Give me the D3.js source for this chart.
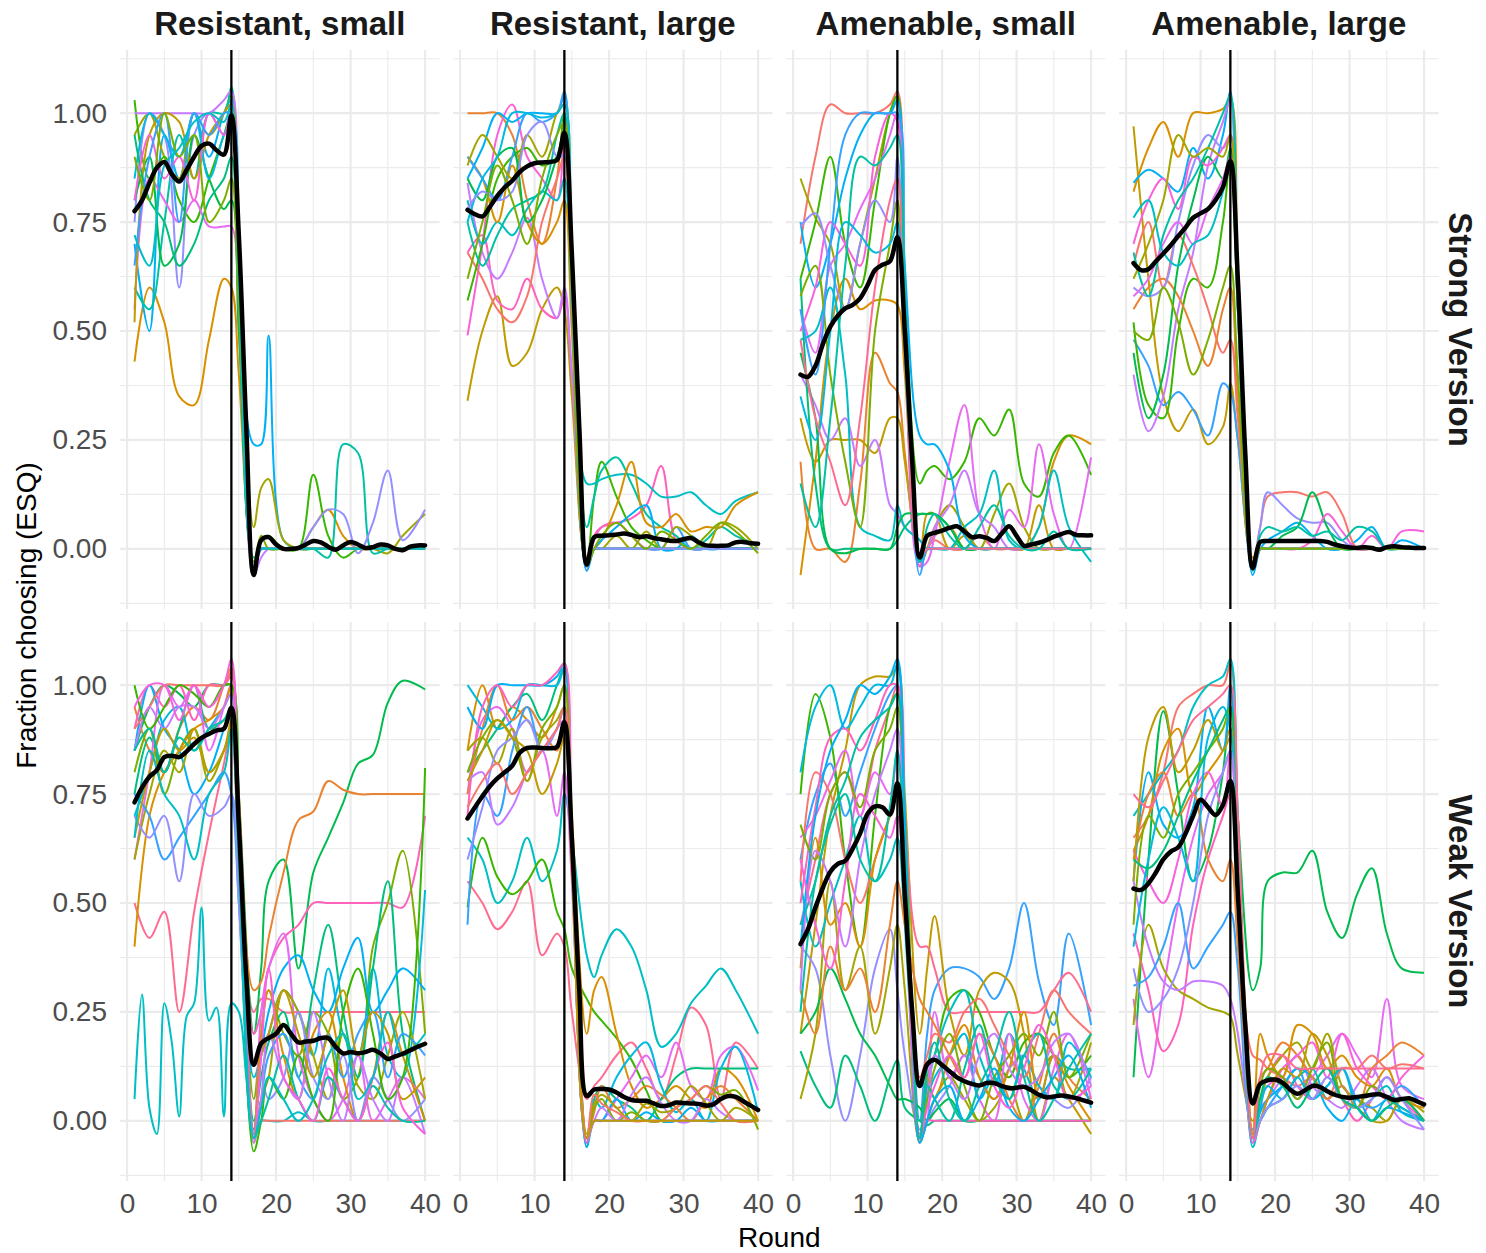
<!DOCTYPE html>
<html><head><meta charset="utf-8">
<script src="https://cdn.jsdelivr.net/npm/d3@7"></script>
<style>body{margin:0;background:#fff;} svg{display:block;font-family:"Liberation Sans",Arial,Helvetica,sans-serif;}</style>
</head><body><svg id="chart" width="1486" height="1253"></svg>
<script>
// ---------------- DATA ----------------
const colLabels = ["Resistant, small", "Resistant, large", "Amenable, small", "Amenable, large"];
const rowLabels = ["Strong Version", "Weak Version"];
const xTicks = [0, 10, 20, 30, 40];
const yTicks = [0, 0.25, 0.5, 0.75, 1];
const treatmentRound = 14;
const rounds = d3.range(1, 41);
// rounds at which individual group trajectories were read (values in percent)
const knotRounds = [1,3,5,7,9,11,13,14,15,17,18,19,21,23,25,27,29,31,33,35,37,40];

// mean (black) lines, rounds 1..40
const meanStrongResSmall = [0.775,0.80,0.84,0.875,0.888,0.86,0.843,0.87,0.90,0.925,0.93,0.915,0.905,0.995,0.72,0.28,-0.06,0.02,0.027,0.01,0.0,0.0,0.002,0.01,0.018,0.015,0.005,-0.002,0.008,0.016,0.01,0.002,0.004,0.01,0.008,0.0,-0.003,0.005,0.008,0.008];
const meanStrongResLarge = [0.778,0.768,0.763,0.785,0.81,0.83,0.845,0.865,0.878,0.885,0.887,0.888,0.892,0.955,0.68,0.28,-0.036,0.027,0.03,0.031,0.033,0.035,0.032,0.027,0.029,0.025,0.022,0.019,0.018,0.022,0.025,0.015,0.008,0.007,0.007,0.008,0.015,0.016,0.013,0.012];
const meanStrongAmeSmall = [0.40,0.395,0.42,0.47,0.51,0.535,0.552,0.56,0.575,0.605,0.64,0.652,0.66,0.715,0.50,0.20,-0.02,0.03,0.037,0.042,0.048,0.052,0.04,0.027,0.029,0.025,0.018,0.035,0.052,0.03,0.007,0.01,0.014,0.02,0.028,0.034,0.039,0.032,0.031,0.031];
const meanStrongAmeLarge = [0.656,0.64,0.642,0.66,0.678,0.697,0.718,0.738,0.76,0.77,0.78,0.80,0.83,0.89,0.62,0.22,-0.044,0.016,0.018,0.018,0.018,0.018,0.018,0.018,0.018,0.018,0.016,0.01,0.006,0.003,0.002,0.004,0.002,-0.002,0.004,0.006,0.004,0.003,0.002,0.002];
const meanWeakResSmall = [0.731,0.765,0.79,0.805,0.835,0.838,0.835,0.848,0.865,0.879,0.888,0.896,0.90,0.948,0.68,0.33,0.129,0.178,0.19,0.20,0.22,0.20,0.18,0.182,0.184,0.19,0.19,0.17,0.155,0.158,0.155,0.158,0.163,0.155,0.142,0.148,0.154,0.162,0.17,0.177];
const meanWeakResLarge = [0.694,0.72,0.745,0.768,0.786,0.80,0.815,0.845,0.856,0.857,0.856,0.855,0.858,0.915,0.65,0.30,0.057,0.072,0.073,0.072,0.065,0.055,0.048,0.046,0.046,0.04,0.034,0.036,0.042,0.041,0.04,0.039,0.035,0.038,0.05,0.057,0.055,0.045,0.035,0.025];
const meanWeakAmeSmall = [0.406,0.44,0.49,0.535,0.572,0.59,0.597,0.625,0.66,0.705,0.722,0.72,0.703,0.775,0.52,0.25,0.08,0.13,0.14,0.128,0.114,0.10,0.091,0.085,0.081,0.087,0.087,0.08,0.075,0.076,0.078,0.07,0.06,0.054,0.056,0.058,0.056,0.052,0.047,0.042];
const meanWeakAmeLarge = [0.533,0.53,0.545,0.57,0.60,0.618,0.628,0.66,0.70,0.737,0.72,0.702,0.725,0.78,0.52,0.22,0.04,0.085,0.093,0.095,0.088,0.072,0.062,0.07,0.08,0.078,0.068,0.06,0.055,0.053,0.055,0.057,0.06,0.061,0.055,0.048,0.05,0.052,0.045,0.038];

// individual groups: g = group id, v = percent at knotRounds (or at r if given)
const groupsStrongResSmall = [
 {g:2, v:[43,60,52,35,33,48,62,60,40,-3,0,0,0,0,5,9,3,0,0,0,0,0]},
 {g:12,v:[70,50,95,85,100,90,100,103,60,24,24,49,2,0,0,0,0,0,0,0,0,0]},
 {g:4, v:[95,100,90,85,100,95,100,104,62,5,14,16,2,0,0,0,0,0,0,-1,3,8]},
 {g:6, v:[103,85,90,80,75,85,95,100,60,-4,2,3,0,0,17,3,-2,0,0,0,0,0]},
 {g:9, v:[60,55,75,95,85,100,100,106,65,-5,0,0,0,0,0,-2,24,22,-1,0,0,0]},
 {g:14,v:[75,100,95,60,95,100,95,103,60,-4,0,0,0,0,5,9,8,-1,6,18,2,9]},
 {g:15,v:[100,100,100,100,100,100,103,105,65,-6,-2,0,0,0,0,0,0,0,0,0,0,0]},
 {g:16,v:[55,85,80,75,80,74,74,74,50,-5,0,0,0,0,0,0,0,0,0,0,0,0]},
 {g:7, v:[80,90,65,70,95,85,78,80,50,-3,0,0,0,0,0,0,0,0,0,0,0,0]},
 {g:3, v:[52,95,100,98,85,95,100,102,65,-3,0,0,0,0,0,0,0,0,0,0,0,0]},
 {g:11,v:[85,100,95,90,100,85,95,98,60,-3,0,0,0,0,0,0,0,0,0,0,0,0]},
 {g:8, v:[95,80,75,65,70,80,85,90,55,-2,0,0,0,0,0,0,0,0,0,0,0,0]},
 {g:17,v:[80,95,85,90,80,100,95,100,60,-4,0,0,0,0,0,0,0,0,0,0,0,0]},
 {g:13,v:[65,90,100,75,100,95,100,100,60,-4,0,0,0,0,0,0,0,0,0,0,0,0]},
 {g:5, v:[90,80,100,90,95,75,80,85,55,-3,3,0,0,0,0,0,0,0,0,0,0,0]},
 {g:10,v:[72,65,88,92,98,100,98,102,62,-4,0,0,0,0,0,0,0,0,0,0,0,0]}
];
const groupsStrongResLarge = [
 {g:1, v:[100,100,100,95,80,70,85,100,60,-4,0,0,0,0,0,0,0,0,0,0,0,0]},
 {g:3, v:[34,50,58,42,45,55,60,55,35,-3,0,0,0,0,0,0,0,0,0,0,0,0]},
 {g:17,v:[49,70,95,102,90,85,80,95,60,-4,2,5,6,3,0,0,0,0,0,0,0,0]},
 {g:18,v:[68,72,57,55,62,55,53,58,40,-3,3,5,6,7,10,19,2,0,0,0,0,0]},
 {g:15,v:[84,68,62,68,76,62,53,60,40,-3,0,0,0,0,0,0,0,0,0,0,0,0]},
 {g:0, v:[68,62,55,52,58,75,85,90,55,-4,0,0,0,0,0,0,0,0,0,0,0,0]},
 {g:6, v:[57,70,85,90,92,88,90,100,60,-4,12,20,12,5,2,0,0,0,0,0,0,0]},
 {g:10,v:[80,70,75,72,78,82,80,85,55,15,15,16,17,17,15,12,12,13,10,8,11,13]},
 {g:9, v:[75,65,72,78,80,82,95,100,58,5,12,18,21,15,8,5,3,0,2,5,3,1]},
 {g:2, v:[90,85,75,88,75,70,75,80,50,-2,0,2,10,20,6,5,8,4,5,5,10,13]},
 {g:12,v:[85,92,100,98,100,100,100,104,60,-5,0,2,5,8,10,0,0,3,0,0,0,0]},
 {g:13,v:[90,85,80,90,100,98,100,105,60,-5,0,0,0,0,0,0,5,0,0,0,0,0]},
 {g:4, v:[88,95,90,85,95,90,100,102,60,-4,0,0,3,0,4,0,5,3,0,6,5,0]},
 {g:7, v:[85,80,90,92,75,80,90,95,55,-4,0,0,0,0,0,0,0,0,0,0,0,0]},
 {g:11,v:[75,85,90,100,100,99,100,102,58,-4,0,0,0,0,0,0,0,0,0,0,0,0]},
 {g:14,v:[78,82,80,82,95,98,90,90,55,-3,0,0,0,0,0,0,0,0,0,0,0,0]},
 {g:5, v:[62,75,88,80,70,85,95,98,58,-4,0,3,6,3,0,4,2,0,3,6,4,-1]}
];
const groupsStrongAmeSmall = [
 {g:0, v:[70,90,102,100,100,100,102,105,60,-4,0,2,0,0,3,0,0,0,0,0,0,0]},
 {g:1, v:[20,0,0,-3,15,45,38,36,22,-3,0,0,0,0,0,0,0,0,0,0,0,0]},
 {g:4, v:[85,76,70,55,70,85,100,104,60,-4,0,5,10,5,0,8,15,5,0,0,0,0]},
 {g:3, v:[30,20,25,25,25,22,30,30,20,-3,8,8,0,3,0,0,0,0,10,0,0,0]},
 {g:2, v:[-6,20,50,62,55,57,57,56,40,-2,0,3,5,0,0,0,0,0,5,20,26,24]},
 {g:6, v:[62,75,90,70,60,80,100,104,60,15,18,19,16,20,30,26,32,15,12,22,26,17]},
 {g:16,v:[55,45,65,70,78,85,95,100,58,-4,-3,3,20,33,8,0,9,5,24,8,0,21]},
 {g:12,v:[75,60,70,85,95,100,100,103,65,26,24,24,18,3,0,0,0,0,0,0,0,0]},
 {g:15,v:[40,33,25,30,19,25,10,8,5,2,0,5,10,18,8,5,0,0,0,0,0,0]},
 {g:10,v:[48,50,60,40,5,3,2,10,5,2,0,0,0,5,8,18,2,0,5,18,5,-3]},
 {g:8, v:[62,15,0,0,0,0,0,2,5,8,8,8,5,0,0,0,0,0,0,0,0,0]},
 {g:5, v:[58,65,40,20,5,50,70,80,50,-2,0,0,0,0,0,0,0,0,0,0,0,0]},
 {g:17,v:[50,60,75,70,65,90,100,98,60,-4,0,0,0,0,0,0,0,0,0,0,0,0]},
 {g:14,v:[74,77,65,55,70,80,75,90,55,-3,0,0,0,0,0,0,0,0,0,0,0,0]},
 {g:13,v:[55,40,70,95,100,100,100,100,60,-6,0,0,0,0,0,0,0,0,0,0,0,0]},
 {g:7, v:[45,30,0,-1,0,0,0,5,8,8,8,8,5,0,0,0,0,0,0,0,0,0]},
 {g:11,v:[35,25,50,75,72,68,70,75,45,-3,0,0,0,0,0,0,0,0,0,0,0,0]},
 {g:19,v:[48,30,20,10,30,60,80,85,50,-2,0,0,0,0,0,0,0,0,0,0,0,0]},
 {g:9, v:[15,5,30,65,90,88,92,95,60,-3,5,8,3,0,5,10,3,0,0,4,0,0]}
];
const groupsStrongAmeLarge = [
 {g:3, v:[97,62,35,27,32,24,28,38,25,-2,0,0,0,0,0,0,0,0,0,0,0,0]},
 {g:2, v:[82,92,98,90,100,100,101,103,60,-3,0,0,0,0,0,0,0,0,0,0,0,0]},
 {g:12,v:[84,87,85,82,92,85,95,105,60,-6,0,2,4,6,3,0,0,2,5,0,2,0]},
 {g:13,v:[48,42,33,36,32,26,38,36,25,-4,0,0,0,0,0,0,0,0,0,0,0,0]},
 {g:6, v:[52,33,30,50,62,60,75,90,55,-4,0,0,0,0,0,0,0,0,0,0,0,0]},
 {g:15,v:[40,27,35,55,68,88,98,103,60,-5,0,0,0,0,0,0,0,0,0,0,0,0]},
 {g:0, v:[65,75,60,72,65,55,45,48,30,-3,5,12,13,13,12,13,8,0,0,0,0,0]},
 {g:1, v:[55,60,62,58,50,42,55,60,35,-3,0,0,0,0,0,0,0,0,0,0,0,0]},
 {g:14,v:[60,58,60,75,88,95,92,95,58,-4,5,13,10,7,6,6,2,0,0,0,0,0]},
 {g:7, v:[45,30,40,65,80,90,85,92,55,-4,0,0,3,5,13,5,0,0,0,0,0,0]},
 {g:17,v:[70,80,85,78,90,88,92,95,58,-4,0,0,0,0,2,8,4,0,3,0,4,4]},
 {g:9, v:[68,58,72,80,85,92,100,104,60,-5,3,5,4,5,3,4,2,5,4,0,0,0]},
 {g:4, v:[62,70,80,95,90,92,90,95,58,-4,0,0,0,0,0,0,0,0,0,0,0,0]},
 {g:16,v:[58,62,70,75,70,78,85,90,55,-4,0,0,0,0,0,0,0,0,0,0,0,0]},
 {g:10,v:[76,80,68,65,70,72,82,88,55,-4,0,0,0,0,0,0,0,0,0,0,0,0]},
 {g:5, v:[50,48,60,52,40,48,60,65,40,-3,0,0,0,0,0,0,0,0,0,0,0,0]}
];
const groupsWeakResSmall = [
 {g:10,r:[1,2,3,4,5,6,7,8,9,10,11,12,13,14,15,16,17,18,19,21,23,25,27,29,31,33,35,37,40],
       v:[5,29,3,-3,27,18,1,24,27,49,23,26,1,27,25,10,-2,0,0,0,2,0,0,0,0,0,0,0,0]},
 {g:19,v:[50,42,48,25,48,66,82,90,60,25,28,28,25,25,25,25,25,25,25,25,25,25]},
 {g:7, v:[85,95,100,98,95,100,100,100,75,20,35,55,60,35,57,65,73,82,84,96,101,99]},
 {g:1, v:[95,85,80,90,95,92,100,104,75,30,32,42,57,69,71,78,76,75,75,75,75,75]},
 {g:18,v:[90,100,95,100,92,100,100,102,70,20,25,35,42,45,50,50,50,50,50,50,49,70]},
 {g:5, v:[80,90,75,85,90,80,85,90,60,5,20,30,20,15,25,20,5,10,40,50,62,20]},
 {g:11,v:[70,80,92,95,85,90,95,98,65,10,15,20,30,25,15,35,20,15,35,15,10,53]},
 {g:8, v:[75,88,80,90,100,90,92,95,65,0,10,18,25,10,30,45,25,10,35,55,20,0]},
 {g:12,v:[85,100,90,85,75,80,90,95,60,-2,15,25,35,38,30,25,35,42,25,30,35,30]},
 {g:16,v:[60,80,100,95,100,85,95,100,65,-4,25,35,43,15,5,0,5,15,0,5,10,5]},
 {g:4, v:[60,75,85,80,90,78,85,90,55,-5,5,10,30,25,15,5,20,8,5,15,25,5]},
 {g:2, v:[40,70,80,85,90,92,95,100,65,-3,20,30,15,5,20,25,10,0,10,25,15,0]},
 {g:13,v:[75,70,60,65,70,75,80,75,50,-3,5,15,20,10,5,20,10,20,25,10,20,15]},
 {g:0, v:[90,95,100,100,100,100,100,103,70,-4,0,0,0,0,0,0,0,0,0,0,0,0]},
 {g:15,v:[85,95,90,95,95,90,95,98,60,-5,5,20,10,5,25,10,0,15,5,0,10,-3]},
 {g:14,v:[70,65,70,55,75,70,72,75,50,-3,10,5,10,25,10,5,15,0,10,5,0,5]},
 {g:6, v:[100,90,95,100,98,95,100,100,65,-7,0,10,5,15,5,0,25,35,20,5,10,81]},
 {g:3, v:[65,80,90,85,88,80,85,92,60,-4,15,20,30,20,10,20,30,15,25,20,5,10]},
 {g:9, v:[85,90,80,88,85,90,92,95,60,-4,0,5,15,5,0,10,5,0,8,3,0,0]},
 {g:17,v:[95,100,100,92,100,95,100,106,70,-4,15,35,10,5,0,12,5,0,10,18,3,-3]},
 {g:10,v:[65,85,75,70,60,75,80,90,60,-4,3,10,5,0,5,15,20,5,10,25,15,20]}
];
const groupsWeakResLarge = [
 {g:19,v:[55,50,44,48,55,38,43,40,25,5,8,10,15,18,12,5,15,26,22,5,18,12]},
 {g:10,v:[65,60,50,55,65,55,62,75,65,38,33,38,44,40,30,17,20,27,31,35,30,20]},
 {g:6, v:[49,65,56,52,55,60,48,44,35,28,25,23,19,14,7,0,0,0,0,0,0,0]},
 {g:2, v:[85,100,90,95,92,88,95,100,70,20,30,33,20,8,3,5,8,5,3,12,10,0]},
 {g:8, v:[80,85,90,95,98,92,100,104,65,-4,5,8,5,3,0,5,10,12,12,12,12,12]},
 {g:16,v:[75,92,95,90,80,85,70,80,55,-5,0,0,5,10,15,10,18,8,5,15,17,7]},
 {g:11,v:[100,95,90,92,100,100,100,104,65,-6,5,3,10,15,18,8,2,5,0,12,17,2]},
 {g:1, v:[75,90,100,92,95,90,85,90,60,-4,2,8,3,5,8,6,3,0,5,8,5,0]},
 {g:12,v:[95,90,100,100,100,100,102,105,65,-6,0,0,5,0,2,0,0,3,0,0,0,0]},
 {g:18,v:[70,95,100,95,100,100,103,105,65,-5,0,0,0,0,0,0,0,0,0,0,0,0]},
 {g:5, v:[80,88,92,88,78,90,95,100,62,-4,3,5,0,2,0,0,3,5,8,6,7,-2]},
 {g:13,v:[45,75,70,85,95,85,90,95,60,-4,0,0,0,0,0,0,0,0,0,0,0,0]},
 {g:15,v:[78,80,68,72,80,85,90,92,60,-4,0,3,0,6,10,4,0,0,5,2,0,0]},
 {g:4, v:[85,88,82,90,78,88,92,95,60,-3,4,6,3,0,4,2,3,8,4,0,3,0]},
 {g:14,v:[60,72,85,88,92,85,90,95,60,-4,0,0,0,0,0,0,0,0,0,0,0,0]},
 {g:0, v:[72,78,82,75,80,85,90,95,60,-4,6,4,2,0,0,0,3,5,8,4,0,0]},
 {g:3, v:[78,85,92,88,85,75,82,88,58,-4,0,0,0,0,0,0,0,0,0,0,0,0]}
];
const groupsWeakAmeSmall = [
 {g:13,v:[60,75,82,70,80,90,98,100,65,0,20,30,35,35,33,28,35,50,32,22,43,22]},
 {g:3, v:[20,45,70,85,100,102,102,104,75,20,35,47,25,15,30,34,32,20,0,10,5,-3]},
 {g:19,v:[45,60,75,80,70,85,95,100,70,40,40,35,25,25,25,25,25,25,25,30,34,25]},
 {g:14,v:[40,35,15,0,15,35,44,30,15,-2,0,3,8,15,10,5,12,15,8,5,3,10]},
 {g:8, v:[16,8,3,15,8,0,10,14,3,0,-1,0,0,0,0,0,0,0,0,0,0,0]},
 {g:4, v:[5,20,55,30,40,20,35,45,30,-5,0,5,10,5,0,3,8,0,10,15,5,18]},
 {g:7, v:[20,25,35,28,20,15,8,5,5,3,0,2,5,0,0,0,0,0,0,0,0,0]},
 {g:6, v:[75,98,88,60,40,70,95,98,70,-4,10,15,28,30,25,15,10,18,20,15,10,15]},
 {g:10,v:[55,40,50,60,70,55,60,65,45,-4,8,15,25,30,15,8,20,12,5,15,12,12]},
 {g:16,v:[65,70,78,85,70,80,75,85,60,-3,5,25,10,15,5,0,20,5,0,12,20,5]},
 {g:1, v:[30,20,40,30,35,25,45,55,45,28,25,22,15,10,20,15,5,0,8,20,10,5]},
 {g:11,v:[80,95,100,90,95,100,100,105,70,-4,5,10,15,20,5,10,5,15,8,5,18,10]},
 {g:0, v:[55,80,75,60,50,60,70,75,60,10,15,20,18,25,28,22,15,10,20,30,25,20]},
 {g:18,v:[50,72,88,90,85,92,100,100,70,-5,0,0,0,0,0,0,0,0,0,0,0,0]},
 {g:5, v:[68,60,75,80,72,85,90,95,70,-4,5,12,20,8,0,10,15,20,15,25,10,20]},
 {g:2, v:[35,65,45,50,40,60,70,75,55,-5,10,5,15,22,10,5,12,25,5,15,8,0]},
 {g:15,v:[30,62,55,40,60,75,85,90,60,-4,0,15,10,5,15,20,12,8,10,18,20,8]},
 {g:9, v:[45,55,70,78,88,92,95,98,65,-4,8,5,0,12,22,10,5,15,20,8,5,12]},
 {g:12,v:[40,70,85,92,100,98,102,106,70,-5,0,5,8,0,5,12,3,0,5,10,15,3]},
 {g:17,v:[60,45,35,55,75,70,65,70,50,-3,3,8,15,10,20,8,3,12,22,15,5,8]},
 {g:9, v:[25,55,68,75,60,55,72,85,60,-4,12,18,5,0,8,15,25,10,0,5,12,20]}
];
const groupsWeakAmeLarge = [
 {g:7, v:[10,60,94,75,55,62,80,95,70,30,35,55,57,57,62,48,42,52,58,43,35,34]},
 {g:16,v:[28,10,30,50,65,75,80,85,65,-3,5,8,10,5,10,15,20,15,10,28,8,5]},
 {g:18,v:[43,30,16,22,45,60,70,75,55,-4,5,10,15,8,5,10,5,0,5,10,5,0]},
 {g:4, v:[22,45,35,30,28,26,25,24,15,0,5,10,15,18,12,20,8,5,3,0,5,2]},
 {g:15,v:[55,40,32,30,32,32,31,28,20,-2,3,5,10,15,8,5,3,8,12,5,0,-2]},
 {g:13,v:[31,33,40,50,35,40,45,48,35,-2,0,3,8,12,5,8,12,5,3,5,8,3]},
 {g:0, v:[65,70,80,95,98,100,100,105,70,15,14,12,10,8,10,5,12,12,15,12,13,12]},
 {g:2, v:[62,70,85,90,75,80,85,90,65,-3,20,15,10,22,20,12,15,10,8,12,5,3]},
 {g:10,v:[70,75,80,85,95,100,102,106,70,-6,0,3,5,10,12,5,8,3,5,8,2,0]},
 {g:12,v:[55,80,68,65,72,95,85,100,65,-5,2,5,8,12,10,3,0,5,0,3,2,0]},
 {g:1, v:[60,75,80,70,75,60,55,60,40,-3,10,12,18,15,10,5,8,3,12,15,18,15]},
 {g:17,v:[62,55,50,60,75,80,72,85,60,-5,0,5,12,15,18,10,20,12,8,5,10,15]},
 {g:3, v:[55,88,95,80,85,92,85,88,60,-4,0,5,12,10,20,15,5,3,0,0,5,0]},
 {g:5, v:[45,70,65,75,80,85,90,95,65,-4,8,12,10,5,12,18,5,3,8,5,3,0]},
 {g:11,v:[40,60,72,65,55,88,95,90,60,-4,3,8,5,10,5,8,12,3,0,5,3,0]},
 {g:14,v:[35,25,28,35,50,70,80,85,60,-4,0,3,5,8,5,10,5,3,5,10,5,-2]},
 {g:8, v:[60,58,62,70,78,85,92,95,65,-4,5,10,8,3,8,12,5,3,0,3,5,0]},
 {g:19,v:[75,72,78,85,92,95,98,100,70,-4,10,15,15,12,12,12,12,12,12,12,12,12]}
];

// ---------------- STYLE ----------------
const groupColors = ["#F8766D","#EA8331","#D89000","#C09B00","#A3A500","#7CAE00","#39B600","#00BB4E","#00BF7D","#00C1A3",
                     "#00BFC4","#00BAE0","#00B0F6","#35A2FF","#9590FF","#C77CFF","#E76BF3","#FA62DB","#FF62BC","#FF6C91"];

const panelTable = [
  {row:0, col:0, mean:meanStrongResSmall, groups:groupsStrongResSmall},
  {row:0, col:1, mean:meanStrongResLarge, groups:groupsStrongResLarge},
  {row:0, col:2, mean:meanStrongAmeSmall, groups:groupsStrongAmeSmall},
  {row:0, col:3, mean:meanStrongAmeLarge, groups:groupsStrongAmeLarge},
  {row:1, col:0, mean:meanWeakResSmall, groups:groupsWeakResSmall},
  {row:1, col:1, mean:meanWeakResLarge, groups:groupsWeakResLarge},
  {row:1, col:2, mean:meanWeakAmeSmall, groups:groupsWeakAmeSmall},
  {row:1, col:3, mean:meanWeakAmeLarge, groups:groupsWeakAmeLarge}
];

const L = {left:120, step:333, w:319.6, top:[50,622], h:559};
const xDomain = [-0.95, 41.95], yDomain = [-0.138, 1.145];
const minorX = [5,15,25,35], minorY = [-0.125,0.125,0.375,0.625,0.875,1.125];

const svg = d3.select("#chart");
const defs = svg.append("defs");

panelTable.forEach((p, i) => {
  const x0 = L.left + p.col * L.step, y0 = L.top[p.row];
  const x = d3.scaleLinear().domain(xDomain).range([x0, x0 + L.w]);
  const y = d3.scaleLinear().domain(yDomain).range([y0 + L.h, y0]);
  const g = svg.append("g");

  defs.append("clipPath").attr("id", "clip" + i)
    .append("rect").attr("x", x0).attr("y", y0).attr("width", L.w).attr("height", L.h);

  // grid
  const grid = g.append("g").attr("stroke", "#EBEBEB").attr("fill", "none");
  grid.selectAll(".mx").data(minorX).join("line")
    .attr("x1", d => x(d)).attr("x2", d => x(d)).attr("y1", y0).attr("y2", y0 + L.h).attr("stroke-width", 1.1);
  grid.selectAll(".my").data(minorY).join("line")
    .attr("y1", d => y(d)).attr("y2", d => y(d)).attr("x1", x0).attr("x2", x0 + L.w).attr("stroke-width", 1.1);
  grid.selectAll(".Mx").data(xTicks).join("line")
    .attr("x1", d => x(d)).attr("x2", d => x(d)).attr("y1", y0).attr("y2", y0 + L.h).attr("stroke-width", 2.2);
  grid.selectAll(".My").data(yTicks).join("line")
    .attr("y1", d => y(d)).attr("y2", d => y(d)).attr("x1", x0).attr("x2", x0 + L.w).attr("stroke-width", 2.2);

  const plot = g.append("g").attr("clip-path", `url(#clip${i})`);
  const lineGen = d3.line().x(d => x(d[0])).y(d => y(d[1])).curve(d3.curveCatmullRom.alpha(0.5));

  plot.selectAll(".grp").data(p.groups).join("path")
    .attr("fill", "none")
    .attr("stroke", d => groupColors[d.g % groupColors.length])
    .attr("stroke-width", 2.0)
    .attr("stroke-linejoin", "round")
    .attr("d", d => {
      const rr = d.r || knotRounds;
      return lineGen(d.v.map((v, k) => [rr[k], v / 100]));
    });

  // treatment vertical line
  plot.append("line")
    .attr("x1", x(treatmentRound)).attr("x2", x(treatmentRound))
    .attr("y1", y0).attr("y2", y0 + L.h)
    .attr("stroke", "#000").attr("stroke-width", 2.3);

  // mean line
  plot.append("path")
    .attr("fill", "none").attr("stroke", "#000").attr("stroke-width", 4.5)
    .attr("stroke-linejoin", "round").attr("stroke-linecap", "round")
    .attr("d", lineGen(rounds.map((r, k) => [r, p.mean[k]])));

  // axes
  if (p.col === 0) {
    const ay = g.append("g").attr("transform", `translate(${x0},0)`)
      .call(d3.axisLeft(y).tickValues(yTicks).tickFormat(d3.format(".2f")).tickSize(0).tickPadding(13));
    ay.select(".domain").remove();
    ay.selectAll("text").attr("font-size", 28).attr("fill", "#4D4D4D")
      .attr("font-family", "'Liberation Sans', Arial, sans-serif");
  }
  if (p.row === 1) {
    const ax = g.append("g").attr("transform", `translate(0,${y0 + L.h})`)
      .call(d3.axisBottom(x).tickValues(xTicks).tickFormat(d3.format("d")).tickSize(0).tickPadding(12));
    ax.select(".domain").remove();
    ax.selectAll("text").attr("font-size", 28).attr("fill", "#4D4D4D")
      .attr("font-family", "'Liberation Sans', Arial, sans-serif");
  }
  // top strips
  if (p.row === 0) {
    g.append("text").attr("x", x0 + L.w / 2).attr("y", 35)
      .attr("text-anchor", "middle").attr("font-size", 33).attr("font-weight", "bold")
      .attr("fill", "#1A1A1A").text(colLabels[p.col]);
  }
  // right strips
  if (p.col === 3) {
    g.append("text")
      .attr("transform", `translate(1449,${y0 + L.h / 2}) rotate(90)`)
      .attr("text-anchor", "middle").attr("font-size", 33).attr("font-weight", "bold")
      .attr("fill", "#1A1A1A").text(rowLabels[p.row]);
  }
});

// axis titles
svg.append("text").attr("x", L.left + (3 * L.step + L.w) / 2).attr("y", 1247)
  .attr("text-anchor", "middle").attr("font-size", 28).attr("fill", "#000").text("Round");
svg.append("text").attr("transform", `translate(36,${(L.top[0] + L.top[1] + L.h) / 2}) rotate(-90)`)
  .attr("text-anchor", "middle").attr("font-size", 28).attr("fill", "#000").text("Fraction choosing (ESQ)");
</script>
</body></html>
